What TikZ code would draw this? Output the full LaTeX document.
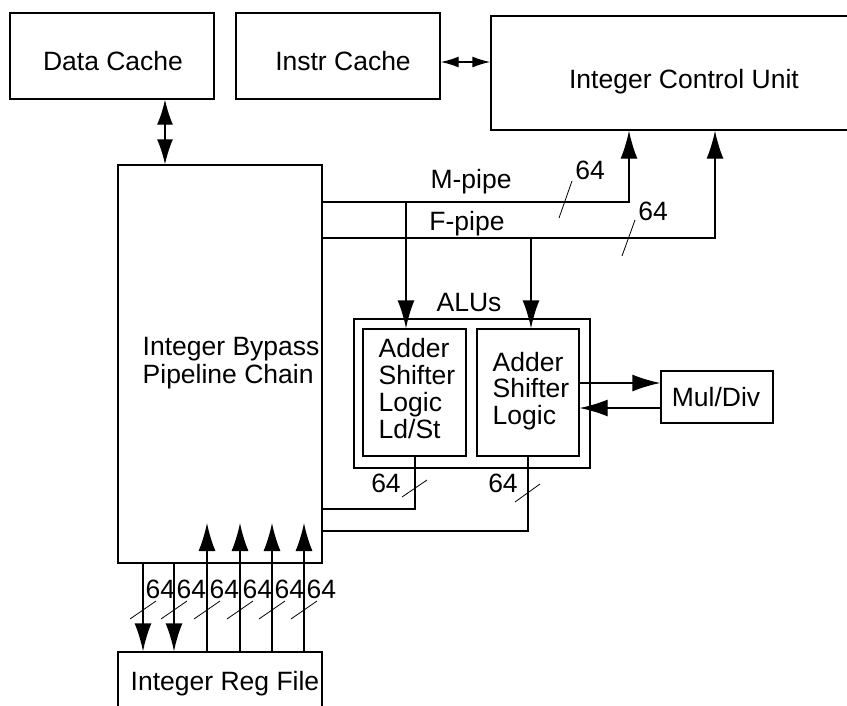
\documentclass[tikz,border=0pt]{standalone}
\usepackage{fontspec}
\setmainfont{Liberation Sans}
\usetikzlibrary{arrows.meta}
\begin{document}
\begin{tikzpicture}[x=1pt,y=-1pt,
  line width=1.4pt,
  font=\fontsize{26.5}{27}\selectfont,
  box/.style={draw, rectangle, inner sep=0pt},
  txt/.style={inner sep=0pt, anchor=base},
  wtxt/.style={inner sep=0pt, anchor=base west},
  ltxt/.style={inner sep=0pt, anchor=base west, align=left},
  arr/.style={-{Latex[length=28pt,width=17pt]}},
  darr/.style={{Latex[length=25pt,width=16pt]}-{Latex[length=25pt,width=16pt]}},
  sarr/.style={{Latex[length=18pt,width=11pt]}-{Latex[length=18pt,width=11pt]}},
  slash/.style={line width=0.8pt},
]
\useasboundingbox (0,0) rectangle (847,705);

% boxes
\node[box, minimum width=204pt, minimum height=86pt] (dcache) at (112,56) {};
\node[box, minimum width=204pt, minimum height=86pt] (icache) at (338,56) {};
\node[box, minimum width=386pt, minimum height=114pt] (icu) at (684,73) {};
\node[box, minimum width=204pt, minimum height=398pt] (bypass) at (220,364) {};
\node[box, minimum width=204pt, minimum height=108pt] (regfile) at (220,706) {};
\node[box, minimum width=236pt, minimum height=149pt] (alus) at (472,393.5) {};
\node[box, minimum width=103pt, minimum height=127pt] (alu1) at (414.5,392.5) {};
\node[box, minimum width=102pt, minimum height=127pt] (alu2) at (528,392.5) {};
\node[box, minimum width=112pt, minimum height=52pt] (muldiv) at (717,397) {};

% texts
\node[txt] (dcacheT) at (113,70) {Data Cache};
\node[txt] (icacheT) at (343,70) {Instr Cache};
\node[txt] (icuT) at (684,88) {Integer Control Unit};
\node[ltxt, font=\fontsize{26.5}{28}\selectfont] (bypassT) at (142,383) {Integer Bypass\\Pipeline Chain};
\node[txt] (regfileT) at (225,690) {Integer Reg File};
\node[txt] (alusT) at (469,311) {ALUs};
\node[ltxt, font=\fontsize{26.5}{26.7}\selectfont] (alu1T) at (378,438) {Adder\\Shifter\\Logic\\Ld/St};
\node[ltxt, font=\fontsize{26.5}{26.2}\selectfont] (alu2T) at (492,424) {Adder\\Shifter\\Logic};
\node[txt] (muldivT) at (716,406) {Mul/Div};
\node[txt] (mpipeT) at (471,188) {M-pipe};
\node[txt] (fpipeT) at (467,230) {F-pipe};
\node[txt] (mW) at (590,179) {64};
\node[txt] (fW) at (653,220) {64};
\node[txt] (o1W) at (386,492) {64};
\node[txt] (o2W) at (503,492) {64};

% cache connections
\coordinate (dcX) at (165,0);
\draw[darr] (dcache.south -| dcX) -- (bypass.north -| dcX);
\coordinate (icY) at (0,62);
\draw[sarr] (icache.east |- icY) -- (icu.west |- icY);

% pipes
\coordinate (mY) at (0,202);
\coordinate (fY) at (0,238);
\coordinate (mX) at (629,0);
\coordinate (fX) at (715,0);
\draw[arr] (bypass.east |- mY) -- (mX |- mY) -- (icu.south -| mX);
\draw[arr] (bypass.east |- fY) -- (fX |- fY) -- (icu.south -| fX);
\coordinate (a1X) at (406,0);
\coordinate (a2X) at (531,0);
\draw[arr] (a1X |- mY) -- (alu1.north -| a1X);
\draw[arr] (a2X |- fY) -- (alu2.north -| a2X);
\draw[slash] (559,218) -- (572,181);
\draw[slash] (622,256) -- (635,220);

% ALU outputs
\coordinate (o1X) at (415,0);
\coordinate (o1Y) at (0,509);
\coordinate (o2X) at (528,0);
\coordinate (o2Y) at (0,531);
\draw (alu1.south -| o1X) -- (o1X |- o1Y) -- (bypass.east |- o1Y);
\draw (alu2.south -| o2X) -- (o2X |- o2Y) -- (bypass.east |- o2Y);
\draw[slash] (402,497) -- (427,480);
\draw[slash] (515,502) -- (540,484);

% Mul/Div
\coordinate (mdA) at (0,383);
\coordinate (mdB) at (0,408);
\draw[arr] (alu2.east |- mdA) -- (muldiv.west |- mdA);
\draw[arr] (muldiv.west |- mdB) -- (alu2.east |- mdB);

% register file ports
\coordinate (upY) at (0,523);
\foreach \x [count=\i] in {143,174} {
  \coordinate (dp\i) at (\x,0);
  \draw[arr] (bypass.south -| dp\i) -- (regfile.north -| dp\i);
}
\foreach \x [count=\i] in {207,240,272,304} {
  \coordinate (up\i) at (\x,0);
  \draw[arr] (regfile.north -| up\i) -- (up\i |- upY);
}
\foreach \x [count=\i] in {143,174,207,240,272,304} {
  \draw[slash] (\x-13,619) -- (\x+13,601);
  \node[wtxt] (pw\i) at (\x+2,598) {64};
}
\end{tikzpicture}
\end{document}
